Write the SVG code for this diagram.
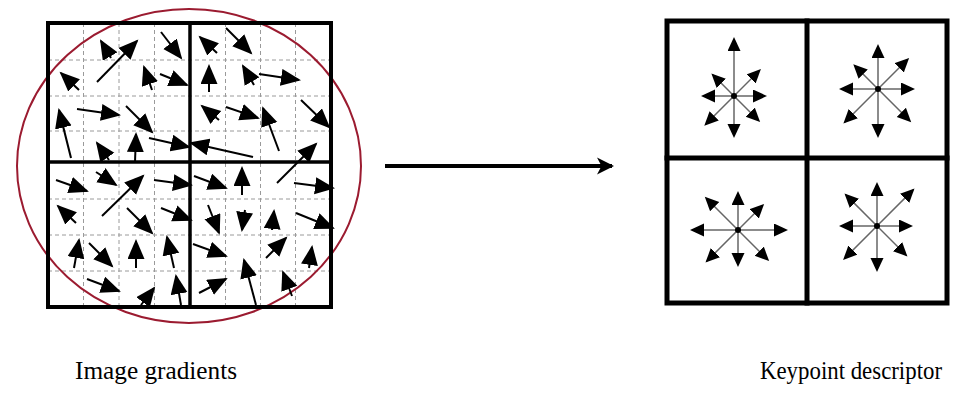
<svg xmlns="http://www.w3.org/2000/svg" width="956" height="398" viewBox="0 0 956 398">
  <style>
    .grid { stroke: #9a9a9a; stroke-width: 1; stroke-dasharray: 4 3; fill: none; }
    .frame { stroke: #000; fill: none; stroke-linecap: square; }
    .grad { stroke: #000; stroke-width: 2; marker-end: url(#gradHead); }
    .bin { stroke: #666; stroke-width: 1.5; marker-end: url(#binHead); }
    .label { font-family: "Liberation Serif", "DejaVu Serif", serif; font-size: 24.5px; fill: #000; }
  </style>
  <defs>
    <marker id="gradHead" markerUnits="userSpaceOnUse" markerWidth="21" markerHeight="18" refX="18" refY="8.5" orient="auto">
      <path d="M0,0 L20,8.5 L0,17 z" fill="#000"/>
    </marker>
    <marker id="binHead" markerUnits="userSpaceOnUse" markerWidth="15" markerHeight="14" refX="12" refY="6.5" orient="auto">
      <path d="M0,0 L14,6.5 L0,13 z" fill="#000"/>
    </marker>
    <marker id="bigHead" markerUnits="userSpaceOnUse" markerWidth="20" markerHeight="20" refX="15" refY="10" orient="auto">
      <path d="M0,1.5 L17,10 L0,18.5 L4.5,10 z" fill="#000"/>
    </marker>
  </defs>
  <rect width="956" height="398" fill="#fff"/>

  <!-- left panel: 8x8 sample grid with gradient arrows -->
  <g id="image-gradients">
    <g class="grid">
      <line x1="83.5" y1="23" x2="83.5" y2="307"/>
      <line x1="119" y1="23" x2="119" y2="307"/>
      <line x1="154.5" y1="23" x2="154.5" y2="307"/>
      <line x1="225.5" y1="23" x2="225.5" y2="307"/>
      <line x1="260.5" y1="23" x2="260.5" y2="307"/>
      <line x1="295.5" y1="23" x2="295.5" y2="307"/>
      <line x1="48" y1="60" x2="331" y2="60"/>
      <line x1="48" y1="96" x2="331" y2="96"/>
      <line x1="48" y1="131" x2="331" y2="131"/>
      <line x1="48" y1="199" x2="331" y2="199"/>
      <line x1="48" y1="235" x2="331" y2="235"/>
      <line x1="48" y1="271" x2="331" y2="271"/>
    </g>
    <ellipse cx="189" cy="166" rx="172" ry="157" fill="none" stroke="#9b1b30" stroke-width="2"/>
    <rect class="frame" x="48" y="23" width="283" height="284" stroke-width="4"/>
    <line class="frame" x1="190" y1="23" x2="190" y2="307" stroke-width="3.5"/>
    <line class="frame" x1="48" y1="162" x2="331" y2="162" stroke-width="3.5"/>
    <g id="gradient-arrows">
      <line class="grad" x1="97" y1="82" x2="137" y2="41"/>
      <line class="grad" x1="111" y1="58" x2="101" y2="41"/>
      <line class="grad" x1="161" y1="32" x2="181" y2="58"/>
      <line class="grad" x1="79" y1="90" x2="61" y2="73"/>
      <line class="grad" x1="152" y1="90" x2="144" y2="67"/>
      <line class="grad" x1="160" y1="74" x2="187" y2="85"/>
      <line class="grad" x1="77" y1="109" x2="119" y2="115"/>
      <line class="grad" x1="71" y1="158" x2="59" y2="110"/>
      <line class="grad" x1="126" y1="106" x2="152" y2="132"/>
      <line class="grad" x1="109" y1="160" x2="97" y2="143"/>
      <line class="grad" x1="135" y1="162" x2="136" y2="134"/>
      <line class="grad" x1="149" y1="138" x2="189" y2="147"/>

      <line class="grad" x1="217" y1="53" x2="200" y2="37"/>
      <line class="grad" x1="226" y1="28" x2="251" y2="53"/>
      <line class="grad" x1="209" y1="92" x2="209" y2="66"/>
      <line class="grad" x1="254" y1="85" x2="243" y2="66"/>
      <line class="grad" x1="259" y1="74" x2="299" y2="80"/>
      <line class="grad" x1="219" y1="120" x2="202" y2="106"/>
      <line class="grad" x1="226" y1="107" x2="258" y2="118"/>
      <line class="grad" x1="279" y1="151" x2="263" y2="108"/>
      <line class="grad" x1="301" y1="100" x2="329" y2="127"/>
      <line class="grad" x1="253" y1="157" x2="191" y2="143"/>
      <line class="grad" x1="277" y1="183" x2="316" y2="144"/>

      <line class="grad" x1="56" y1="180" x2="87" y2="191"/>
      <line class="grad" x1="96" y1="172" x2="116" y2="185"/>
      <line class="grad" x1="102" y1="216" x2="143" y2="176"/>
      <line class="grad" x1="154" y1="180" x2="191" y2="185"/>
      <line class="grad" x1="76" y1="223" x2="58" y2="206"/>
      <line class="grad" x1="127" y1="208" x2="152" y2="233"/>
      <line class="grad" x1="161" y1="208" x2="191" y2="220"/>
      <line class="grad" x1="74" y1="268" x2="79" y2="240"/>
      <line class="grad" x1="89" y1="243" x2="112" y2="266"/>
      <line class="grad" x1="136" y1="268" x2="136" y2="241"/>
      <line class="grad" x1="174" y1="268" x2="167" y2="237"/>
      <line class="grad" x1="87" y1="279" x2="119" y2="291"/>
      <line class="grad" x1="141" y1="305" x2="154" y2="288"/>
      <line class="grad" x1="181" y1="305" x2="176" y2="276"/>

      <line class="grad" x1="194" y1="176" x2="226" y2="188"/>
      <line class="grad" x1="242" y1="195" x2="242" y2="168"/>
      <line class="grad" x1="294" y1="183" x2="333" y2="188"/>
      <line class="grad" x1="208" y1="205" x2="219" y2="233"/>
      <line class="grad" x1="245" y1="210" x2="242" y2="230"/>
      <line class="grad" x1="272" y1="230" x2="274" y2="211"/>
      <line class="grad" x1="296" y1="213" x2="333" y2="228"/>
      <line class="grad" x1="193" y1="244" x2="226" y2="256"/>
      <line class="grad" x1="266" y1="258" x2="286" y2="238"/>
      <line class="grad" x1="309" y1="268" x2="312" y2="247"/>
      <line class="grad" x1="199" y1="293" x2="226" y2="279"/>
      <line class="grad" x1="256" y1="305" x2="244" y2="260"/>
      <line class="grad" x1="292" y1="296" x2="283" y2="272"/>
    </g>
    <text class="label" x="75" y="379" textLength="162" lengthAdjust="spacingAndGlyphs">Image gradients</text>
  </g>

  <!-- connector between the two panels -->
  <g id="connectors">
    <line x1="385" y1="166" x2="612" y2="166" stroke="#000" stroke-width="4" marker-end="url(#bigHead)"/>
  </g>

  <!-- right panel: 2x2 orientation histograms -->
  <g id="keypoint-descriptor">
    <rect class="frame" x="667" y="21" width="280" height="282" stroke-width="5"/>
    <line class="frame" x1="807" y1="21" x2="807" y2="303" stroke-width="5"/>
    <line class="frame" x1="667" y1="158" x2="947" y2="158" stroke-width="5"/>

    <g id="hist-tl">
      <line class="bin" x1="734" y1="96" x2="734" y2="39"/>
      <line class="bin" x1="734" y1="96" x2="759.5" y2="70.5"/>
      <line class="bin" x1="734" y1="96" x2="765" y2="96"/>
      <line class="bin" x1="734" y1="96" x2="758.7" y2="120.7"/>
      <line class="bin" x1="734" y1="96" x2="734" y2="136"/>
      <line class="bin" x1="734" y1="96" x2="705.7" y2="124.3"/>
      <line class="bin" x1="734" y1="96" x2="703" y2="96"/>
      <line class="bin" x1="734" y1="96" x2="712.8" y2="74.8"/>
      <circle cx="734" cy="96" r="3"/>
    </g>
    <g id="hist-tr">
      <line class="bin" x1="878" y1="89" x2="878" y2="46"/>
      <line class="bin" x1="878" y1="89" x2="907.7" y2="59.3"/>
      <line class="bin" x1="878" y1="89" x2="913" y2="89"/>
      <line class="bin" x1="878" y1="89" x2="909.8" y2="120.8"/>
      <line class="bin" x1="878" y1="89" x2="878" y2="136"/>
      <line class="bin" x1="878" y1="89" x2="844.8" y2="122.2"/>
      <line class="bin" x1="878" y1="89" x2="841" y2="89"/>
      <line class="bin" x1="878" y1="89" x2="854.7" y2="65.7"/>
      <circle cx="878" cy="89" r="3"/>
    </g>
    <g id="hist-bl">
      <line class="bin" x1="738" y1="230" x2="738" y2="193"/>
      <line class="bin" x1="738" y1="230" x2="762.7" y2="205.3"/>
      <line class="bin" x1="738" y1="230" x2="786" y2="230"/>
      <line class="bin" x1="738" y1="230" x2="767.7" y2="259.7"/>
      <line class="bin" x1="738" y1="230" x2="738" y2="265"/>
      <line class="bin" x1="738" y1="230" x2="706.9" y2="261.1"/>
      <line class="bin" x1="738" y1="230" x2="692" y2="230"/>
      <line class="bin" x1="738" y1="230" x2="706.2" y2="198.2"/>
      <circle cx="738" cy="230" r="3"/>
    </g>
    <g id="hist-br">
      <line class="bin" x1="877" y1="226" x2="877" y2="184"/>
      <line class="bin" x1="877" y1="226" x2="913.1" y2="189.9"/>
      <line class="bin" x1="877" y1="226" x2="911" y2="226"/>
      <line class="bin" x1="877" y1="226" x2="906" y2="255"/>
      <line class="bin" x1="877" y1="226" x2="877" y2="270"/>
      <line class="bin" x1="877" y1="226" x2="844.5" y2="258.5"/>
      <line class="bin" x1="877" y1="226" x2="841" y2="226"/>
      <line class="bin" x1="877" y1="226" x2="845.9" y2="194.9"/>
      <circle cx="877" cy="226" r="3"/>
    </g>
    <text class="label" x="760" y="379" textLength="182" lengthAdjust="spacingAndGlyphs">Keypoint descriptor</text>
  </g>
</svg>
